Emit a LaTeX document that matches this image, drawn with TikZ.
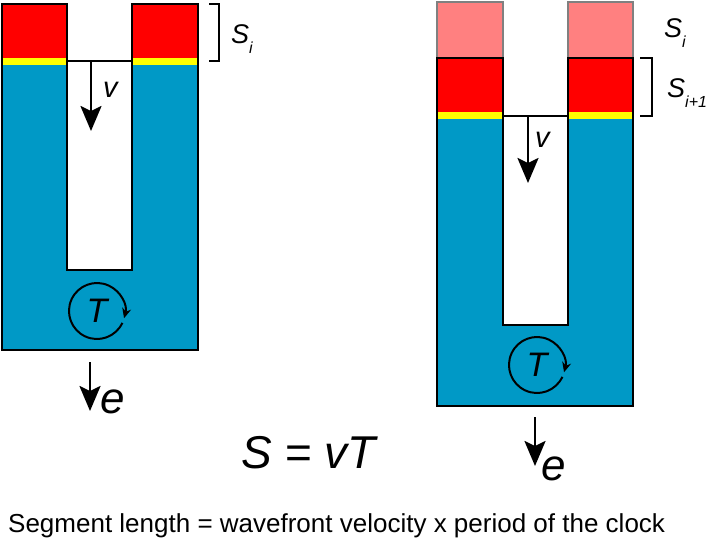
\documentclass[tikz,border=0pt]{standalone}
\usepackage{fontspec}
\setmainfont{Liberation Sans}
\usetikzlibrary{arrows.meta,positioning}
\definecolor{segred}{RGB}{255,0,0}
\definecolor{segyellow}{RGB}{255,255,0}
\definecolor{tissue}{RGB}{0,153,198}
\definecolor{oldseg}{RGB}{255,128,128}
\newcommand*{\fs}[1]{\fontsize{#1}{#1}\selectfont}
\newcommand*{\seglow}[1]{\raisebox{-10pt}{\fs{16}#1}}

\begin{document}
\begin{tikzpicture}[x=1pt,y=-1pt,
outline/.style ={draw=black, line width=2.5pt},
oldline/.style ={draw=gray, line width=2.5pt},
bracket/.style ={draw=black, line width=2pt},
wave/.style ={draw, line width=2.5pt, -{Stealth[length=25pt,width=21pt,inset=5pt]}},
clock/.style ={draw, line width=2pt, -{Stealth[length=10pt,width=9pt]}},
label_seg/.style ={anchor=base west, inner sep=0pt, font=\fs{27}\itshape},
label_big/.style ={anchor=base west, inner sep=0pt, font=\fs{44}\itshape},
label_clk/.style ={inner sep=0pt, font=\fs{34}\itshape}]
  \useasboundingbox (0,0) rectangle (709,541);
  % left column - segment S_i
    \fill[segred] (2,4) rectangle (67,58) (132,4) rectangle (198,58);
    \fill[segyellow] (2,58) rectangle (67,65) (132,58) rectangle (198,65);
    \fill[tissue] (2,65) -- (67,65) -- (67,270) -- (132,270) -- (132,65)
      -- (198,65) -- (198,350) -- (2,350) -- cycle;
    \path[outline] (2,4) -- (67,4) -- (67,270) -- (132,270) -- (132,4)
      -- (198,4) -- (198,350) -- (2,350) -- cycle;
    \path[outline] (67,61) -- (132,61);
    \path[bracket] (209,4) -- (219,4) -- (219,61) -- (209,61);
    \node[label_seg] (si_l) at (231,43) {S\seglow{i}};
  % right column - segment S_i+1
    \fill[oldseg] (437,2) rectangle (503,58) (568,2) rectangle (633,58);
    \path[oldline] (437,58) -- (437,2) -- (503,2) -- (503,58);
    \path[oldline] (568,58) -- (568,2) -- (633,2) -- (633,58);
    \fill[segred] (437,58) rectangle (503,112) (568,58) rectangle (633,112);
    \fill[segyellow] (437,112) rectangle (503,119) (568,112) rectangle (633,119);
    \fill[tissue] (437,119) -- (503,119) -- (503,325) -- (568,325) -- (568,119)
      -- (633,119) -- (633,406) -- (437,406) -- cycle;
    \path[outline] (437,58) -- (503,58) -- (503,325) -- (568,325) -- (568,58)
      -- (633,58) -- (633,406) -- (437,406) -- cycle;
    \path[outline] (503,116) -- (568,116);
    \path[bracket] (640,58) -- (652,58) -- (652,116) -- (640,116);
    \node[label_seg] (si_r) at (664,37) {S\seglow{i}};
    \node[label_seg] (sj_r) at (667,97) {S\seglow{i+1}};
  % wavefront velocity
    \coordinate (v_l_from) at (91,61);
    \coordinate (v_l_to) at (91,131);
    \coordinate (v_r_from) at (528,116);
    \coordinate (v_r_to) at (528,183);
    \path[wave] (v_l_from) -- (v_l_to);
    \path[wave] (v_r_from) -- (v_r_to);
    \node[label_seg, font=\fs{29}\itshape] (v_l) at (103,97) {v};
    \node[label_seg, font=\fs{29}\itshape] (v_r) at (535,147) {v};
  % clocks
    \node[label_clk] (clk_l) at (97,311) {T};
    \node[label_clk] (clk_r) at (537,365) {T};
    \draw[clock] ([shift={(-25:28pt)}]clk_l.center) arc[start angle=-25, end angle=-375, radius=28pt];
    \draw[clock] ([shift={(-25:28pt)}]clk_r.center) arc[start angle=-25, end angle=-375, radius=28pt];
  % elongation
    \coordinate (e_l_from) at (90,362);
    \coordinate (e_l_to) at (90,411);
    \coordinate (e_r_from) at (535,417);
    \coordinate (e_r_to) at (535,466);
    \path[wave] (e_l_from) -- (e_l_to);
    \path[wave] (e_r_from) -- (e_r_to);
    \node[label_big] (e_l) at (100,413) {e};
    \node[label_big] (e_r) at (541,480) {e};
  % formula and caption
    \node[anchor=base, inner sep=0pt, font=\fs{46}] (formula) at (310,468) {\textit{S} = \textit{vT}};
    \node[anchor=base west, inner sep=0pt, font=\fs{26}] (caption) at (8,532)
      {Segment length = wavefront velocity x period of the clock};
\end{tikzpicture}
\end{document}
